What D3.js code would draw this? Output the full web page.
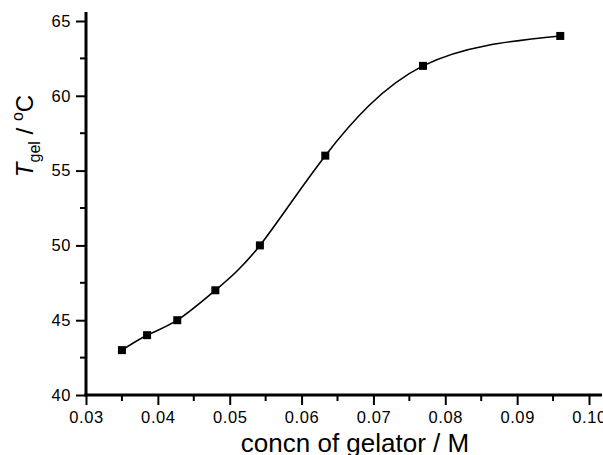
<!DOCTYPE html>
<html><head><meta charset="utf-8">
<script src="https://cdn.jsdelivr.net/npm/d3@7"></script>
<style>body{margin:0;background:#fff}svg{display:block}text{font-family:"Liberation Sans",Arial,sans-serif;fill:#000}</style>
</head><body>
<script>
const concn = [0.035, 0.0385, 0.0427, 0.048, 0.0542, 0.0633, 0.0769, 0.096];
const tgel = [43, 44, 45, 47, 50, 56, 62, 64];
const xTicks = [0.03, 0.04, 0.05, 0.06, 0.07, 0.08, 0.09, 0.10];
const xTickLabels = ["0.03", "0.04", "0.05", "0.06", "0.07", "0.08", "0.09", "0.10"];
const yTicks = [40, 45, 50, 55, 60, 65];

const W = 603, H = 455;
const svg = d3.select("body").append("svg").attr("width", W).attr("height", H);
const x = d3.scaleLinear().domain([0.03, 0.10]).range([86, 589]);
const y = d3.scaleLinear().domain([40, 65]).range([395, 21]);

const xMinor = d3.range(0, 8).map(i => 0.035 + i * 0.01).filter(v => v < 0.1016);
const yMinor = [42.5, 47.5, 52.5, 57.5, 62.5];

// minor ticks
svg.append("g").selectAll("line").data(xMinor).join("line")
  .attr("x1", d => x(d)).attr("x2", d => x(d)).attr("y1", 395).attr("y2", 401)
  .attr("stroke", "#000").attr("stroke-width", 2);
svg.append("g").selectAll("line").data(yMinor).join("line")
  .attr("y1", d => y(d)).attr("y2", d => y(d)).attr("x1", 86).attr("x2", 80)
  .attr("stroke", "#000").attr("stroke-width", 2);

const tickFont = '"Liberation Sans",Arial,sans-serif';

// x axis
const xAxis = d3.axisBottom(x).tickValues(xTicks).tickFormat((d, i) => xTickLabels[i]).tickSize(10).tickPadding(6).tickSizeOuter(0);
const gx = svg.append("g").attr("transform", "translate(0,395)").call(xAxis);
gx.select(".domain").remove();
gx.selectAll(".tick line").attr("stroke-width", 2);
gx.selectAll("text").style("font-size", "16.5px").style("font-family", tickFont).style("letter-spacing", "0.6px").attr("fill", "#000");
svg.append("line").attr("x1", 84.5).attr("x2", 602).attr("y1", 395).attr("y2", 395).attr("stroke", "#000").attr("stroke-width", 3);

// y axis
const yAxis = d3.axisLeft(y).tickValues(yTicks).tickSize(10).tickPadding(5).tickSizeOuter(0);
const gy = svg.append("g").attr("transform", "translate(86,0)").call(yAxis);
gy.select(".domain").remove();
gy.selectAll(".tick line").attr("stroke-width", 2);
gy.selectAll("text").style("font-size", "16.5px").style("font-family", tickFont).style("letter-spacing", "0.6px").attr("fill", "#000");
svg.append("line").attr("x1", 86).attr("x2", 86).attr("y1", 12).attr("y2", 396.5).attr("stroke", "#000").attr("stroke-width", 3);

// curve
const pts = concn.map((c, i) => [c, tgel[i]]);
svg.append("path").datum(pts)
  .attr("d", d3.line().x(d => x(d[0])).y(d => y(d[1])).curve(d3.curveNatural))
  .attr("fill", "none").attr("stroke", "#000").attr("stroke-width", 1.6);

// markers
svg.append("g").selectAll("rect").data(pts).join("rect")
  .attr("x", d => x(d[0]) - 4).attr("y", d => y(d[1]) - 4)
  .attr("width", 8).attr("height", 8).attr("fill", "#000");

// axis titles
svg.append("text").attr("x", 355).attr("y", 452).attr("text-anchor", "middle")
  .style("font-size", "26px").text("concn of gelator / M");

const yl = svg.append("text").attr("transform", "translate(33,136) rotate(-90)").attr("text-anchor", "middle")
  .style("font-size", "24px");
yl.append("tspan").style("font-style", "italic").text("T");
yl.append("tspan").attr("dy", 7).style("font-size", "16px").text("gel");
yl.append("tspan").attr("dy", -7).text(" / ");
yl.append("tspan").attr("dy", -10).style("font-size", "16px").text("o");
yl.append("tspan").attr("dy", 10).text("C");
</script>
</body></html>
